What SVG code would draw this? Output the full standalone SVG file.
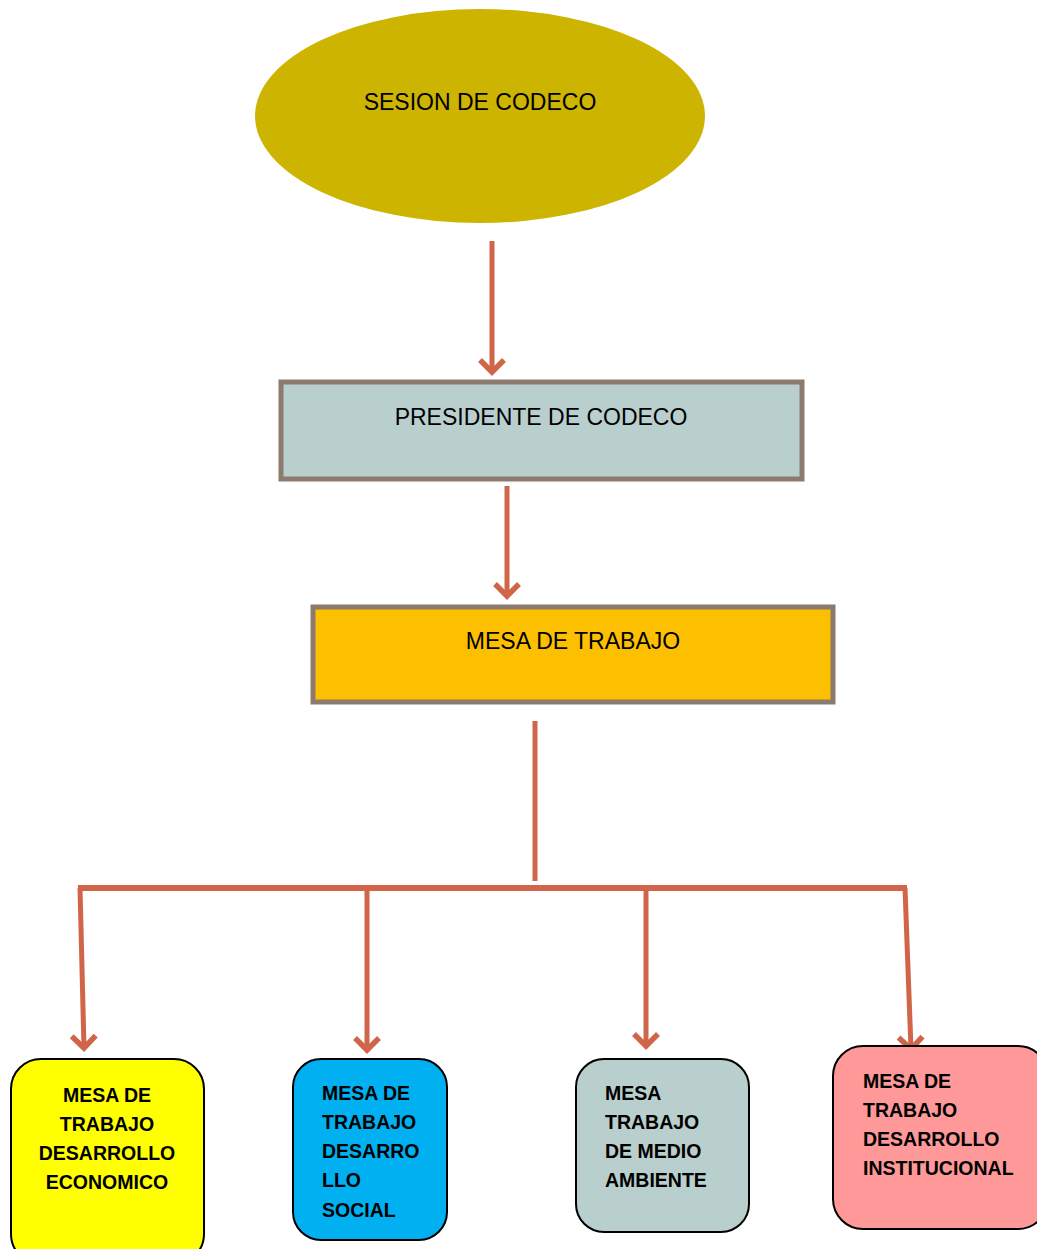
<svg xmlns="http://www.w3.org/2000/svg" width="1037" height="1249" viewBox="0 0 1037 1249">
<style>
.conn{fill:none;stroke:#D0654A;stroke-width:5;stroke-linecap:butt}
.hbar{stroke-width:6}
.top{font-family:"Liberation Sans",Arial,sans-serif;font-size:23px;fill:#000}
.box{font-family:"Liberation Sans",Arial,sans-serif;font-size:19.5px;font-weight:bold;fill:#000}
.rnode{stroke:#000;stroke-width:2}
.snode{stroke:#8B7B6F;stroke-width:5}
</style>
<defs>
<marker id="ah" viewBox="-16 -16 32 32" refX="0" refY="0" markerWidth="32" markerHeight="32" markerUnits="userSpaceOnUse" orient="auto">
<path d="M-12,-12 L0,0 L-12,12" fill="none" stroke="#D0654A" stroke-width="5.5" stroke-linejoin="miter"/>
</marker>
</defs>
<rect width="1037" height="1249" fill="#fff"/>
<g id="connectors">
<line class="conn" x1="492" y1="241" x2="492" y2="372" marker-end="url(#ah)"/>
<line class="conn" x1="507" y1="486" x2="507" y2="596" marker-end="url(#ah)"/>
<line class="conn" x1="535" y1="721" x2="535" y2="881"/>
<line class="conn hbar" x1="78" y1="888" x2="907" y2="888"/>
<line class="conn" x1="80" y1="888" x2="84" y2="1048" marker-end="url(#ah)"/>
<line class="conn" x1="367" y1="888" x2="367" y2="1050" marker-end="url(#ah)"/>
<line class="conn" x1="646" y1="888" x2="646" y2="1046" marker-end="url(#ah)"/>
<line class="conn" x1="905" y1="888" x2="911" y2="1049" marker-end="url(#ah)"/>
</g>
<g id="sesion">
<ellipse cx="480" cy="116" rx="225" ry="107" fill="#CCB400"/>
<text class="top" x="480" y="110" text-anchor="middle">SESION DE CODECO</text>
</g>
<g id="presidente">
<rect class="snode" x="281" y="382" width="521" height="97" fill="#B9CFCD"/>
<text class="top" x="541" y="425" text-anchor="middle">PRESIDENTE DE CODECO</text>
</g>
<g id="mesa">
<rect class="snode" x="313" y="607" width="520" height="95" fill="#FDC000"/>
<text class="top" x="573" y="649" text-anchor="middle">MESA DE TRABAJO</text>
</g>
<g id="economico">
<rect class="rnode" x="11" y="1059" width="193" height="205" rx="30" fill="#FFFF00"/>
<text class="box" text-anchor="middle"><tspan x="107" y="1102">MESA DE</tspan><tspan x="107" y="1131">TRABAJO</tspan><tspan x="107" y="1160">DESARROLLO</tspan><tspan x="107" y="1189">ECONOMICO</tspan></text>
</g>
<g id="social">
<rect class="rnode" x="293" y="1059" width="154" height="181" rx="28" fill="#00B0F0"/>
<text class="box"><tspan x="322" y="1100">MESA DE</tspan><tspan x="322" y="1129">TRABAJO</tspan><tspan x="322" y="1158">DESARRO</tspan><tspan x="322" y="1187">LLO</tspan><tspan x="322" y="1217">SOCIAL</tspan></text>
</g>
<g id="ambiente">
<rect class="rnode" x="576" y="1059" width="173" height="173" rx="28" fill="#B9CFCD"/>
<text class="box"><tspan x="605" y="1100">MESA</tspan><tspan x="605" y="1129">TRABAJO</tspan><tspan x="605" y="1158">DE MEDIO</tspan><tspan x="605" y="1187">AMBIENTE</tspan></text>
</g>
<g id="institucional">
<rect class="rnode" x="833" y="1046" width="215" height="183" rx="30" fill="#FF9999"/>
<text class="box"><tspan x="863" y="1088">MESA DE</tspan><tspan x="863" y="1117">TRABAJO</tspan><tspan x="863" y="1146">DESARROLLO</tspan><tspan x="863" y="1175">INSTITUCIONAL</tspan></text>
</g>
</svg>
